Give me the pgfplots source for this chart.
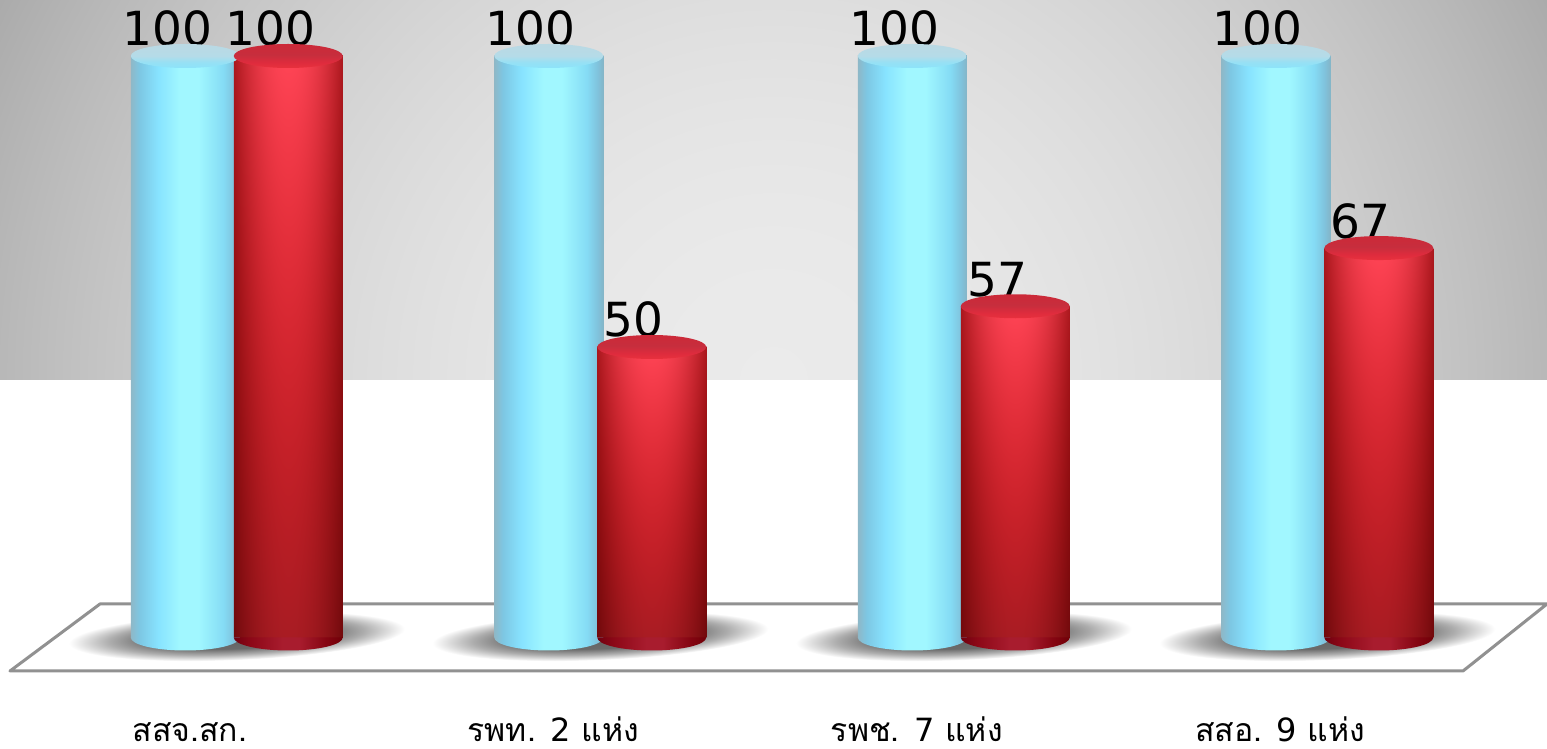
\documentclass[border=0pt]{standalone}
\usepackage{fontspec}
\setmainfont{DejaVu Sans}
\newfontfamily\thaifont[Script=Thai]{Loma}
\usepackage{pgfplots}
\pgfplotsset{compat=1.18}
\pgfdeclarefunctionalshading{bandbg}{\pgfpoint{0bp}{0bp}}{\pgfpoint{100bp}{100bp}}{}{
  25 sub 50 div exch 25 sub 50 div 0.5 sub abs 2 mul dup mul 0.20 mul 0.92 exch sub
  exch dup mul 0.05 mul sub dup dup
}
\pgfdeclarefunctionalshading{redcyl}{\pgfpoint{0bp}{0bp}}{\pgfpoint{100bp}{100bp}}{}{
  25 sub 50 div exch 25 sub 50 div 0.5 sub abs 2 mul dup mul 0.33 mul 1 exch sub
  dup 0.5 sub 0.5 div
  2 index dup mul 0.16 mul 0.11 add mul
  3 1 roll
  exch 0.34 mul 0.66 add mul
  exch
  dup 1.25 mul
}
\pgfdeclarehorizontalshading{bluecyl}{100bp}{rgb(0bp)=(.56,.72,.78);rgb(25bp)=(.56,.72,.78);rgb(29bp)=(.49,.78,.89);rgb(37.5bp)=(.53,.89,1);rgb(47.5bp)=(.63,.97,1);rgb(56bp)=(.63,.97,1);rgb(67.5bp)=(.52,.86,.96);rgb(72.5bp)=(.50,.76,.86);rgb(75bp)=(.52,.71,.78);rgb(100bp)=(.52,.71,.78)}
\pgfdeclarehorizontalshading{redbot}{100bp}{rgb(0bp)=(.44,0,.06);rgb(25bp)=(.44,0,.06);rgb(32.5bp)=(.55,.03,.09);rgb(47.5bp)=(.66,.11,.18);rgb(55bp)=(.66,.11,.18);rgb(67.5bp)=(.52,.02,.07);rgb(75bp)=(.44,0,.03);rgb(100bp)=(.44,0,.03)}
\pgfdeclareverticalshading{bluecap}{100bp}{rgb(0bp)=(.55,.89,.98);rgb(25bp)=(.55,.89,.98);rgb(37bp)=(.59,.88,.96);rgb(50bp)=(.71,.86,.91);rgb(75bp)=(.73,.85,.89);rgb(100bp)=(.73,.85,.89)}
\pgfdeclareverticalshading{redcap}{100bp}{rgb(0bp)=(.91,.19,.24);rgb(25bp)=(.91,.19,.24);rgb(37bp)=(.87,.17,.24);rgb(52bp)=(.78,.18,.24);rgb(75bp)=(.80,.16,.22);rgb(100bp)=(.80,.16,.22)}
\pgfdeclareradialshading{floorshadow}{\pgfpointorigin}{rgb(0bp)=(.38,.38,.38);rgb(13bp)=(.42,.42,.42);rgb(19bp)=(.68,.68,.68);rgb(25bp)=(1,1,1);rgb(100bp)=(1,1,1)}
\pgfdeclareplotmark{bluetop}{\pgfpathellipse{\pgfqpoint{-51.5pt}{0pt}}{\pgfqpoint{54.5pt}{0pt}}{\pgfqpoint{0pt}{12pt}}\pgfshadepath{bluecap}{0}\pgfusepath{discard}}
\pgfdeclareplotmark{redtop}{\pgfpathellipse{\pgfqpoint{51.5pt}{0pt}}{\pgfqpoint{54.5pt}{0pt}}{\pgfqpoint{0pt}{12pt}}\pgfshadepath{redcap}{0}\pgfusepath{discard}}
\pgfdeclareplotmark{bluebot}{\pgfpathmoveto{\pgfqpoint{-106pt}{0.5pt}}\pgfpatharc{180}{360}{54.5pt and 13pt}\pgfpathclose\pgfshadepath{bluecyl}{0}\pgfusepath{discard}}
\pgfdeclareplotmark{redbot}{\pgfpathmoveto{\pgfqpoint{-3pt}{0.5pt}}\pgfpatharc{180}{360}{54.5pt and 13pt}\pgfpathclose\pgfshadepath{redbot}{0}\pgfusepath{discard}}
\definecolor{floorline}{RGB}{145,145,145}
\pgfplotsset{
  bluebar/.style={ybar,bar width=109pt,bar shift=-51.5pt,draw=none,shade,shading=bluecyl},
  redbar/.style={ybar,bar width=109pt,bar shift=51.5pt,draw=none,shade,shading=redcyl},
}
\begin{document}
\begin{tikzpicture}[x=1pt,y=1pt]
\path[use as bounding box] (0,0) rectangle (1547,749);
\fill[white] (0,0) rectangle (1547,749);
\path[shade,shading=bandbg] (0,369) rectangle (1547,749);
\draw[floorline,line width=3pt,line join=round] (10,78) -- (1463,78) -- (1547,145) -- (100,145) -- cycle;
\foreach \cx in {236.75,600.25,963.75,1327.25}{
  \begin{scope}[transform canvas={shift={(\cx pt,113pt)},rotate=2.5}]
    \path[shade,shading=floorshadow] (0,0) ellipse (168 and 24);
  \end{scope}
}
\begin{axis}[
  at={(0,0)},anchor=south west,
  width=1547pt,height=749pt,scale only axis,
  xmin=-0.6513,xmax=3.6045,
  ymin=-19.072,ymax=109.622,
  axis line style={draw=none},
  major tick length=0pt,
  ytick=\empty,
  xtick={0,1,2,3},
  xticklabels={สสจ.สก.,รพท. {\rmfamily 2} แห่ง,รพช. {\rmfamily 7} แห่ง,สสอ. {\rmfamily 9} แห่ง},
  x tick label style={font=\fontsize{32}{36}\thaifont,anchor=base,xshift=-47pt,yshift=7pt},
  xticklabel shift=0pt,
  /pgf/number format/assume math mode=true,
  clip=false,
  every axis plot/.append style={forget plot},
]
% value labels (behind the cylinders)
\addplot[draw=none,mark=none,nodes near coords,
  every node near coord/.style={font=\fontsize{47}{50}\selectfont,text=black,anchor=base,xshift=-69.5pt,yshift=10pt,inner sep=0pt}]
  coordinates {(0,100)(1,100)(2,100)(3,100)};
\addplot[draw=none,mark=none,nodes near coords,
  every node near coord/.style={font=\fontsize{47}{50}\selectfont,text=black,anchor=base,xshift=33.5pt,yshift=10pt,inner sep=0pt}]
  coordinates {(0,100)(1,50)(2,57)(3,67)};
% blue series
\addplot[only marks,mark=bluebot] coordinates {(0,0)(1,0)(2,0)(3,0)};
\addplot[bluebar] coordinates {(0,100)};
\addplot[bluebar] coordinates {(1,100)};
\addplot[bluebar] coordinates {(2,100)};
\addplot[bluebar] coordinates {(3,100)};
\addplot[only marks,mark=bluetop] coordinates {(0,100)(1,100)(2,100)(3,100)};
% red series
\addplot[only marks,mark=redbot] coordinates {(0,0)(1,0)(2,0)(3,0)};
\addplot[redbar] coordinates {(0,100)};
\addplot[redbar] coordinates {(1,50)};
\addplot[redbar] coordinates {(2,57)};
\addplot[redbar] coordinates {(3,67)};
\addplot[only marks,mark=redtop] coordinates {(0,100)(1,50)(2,57)(3,67)};
\end{axis}
\end{tikzpicture}
\end{document}
